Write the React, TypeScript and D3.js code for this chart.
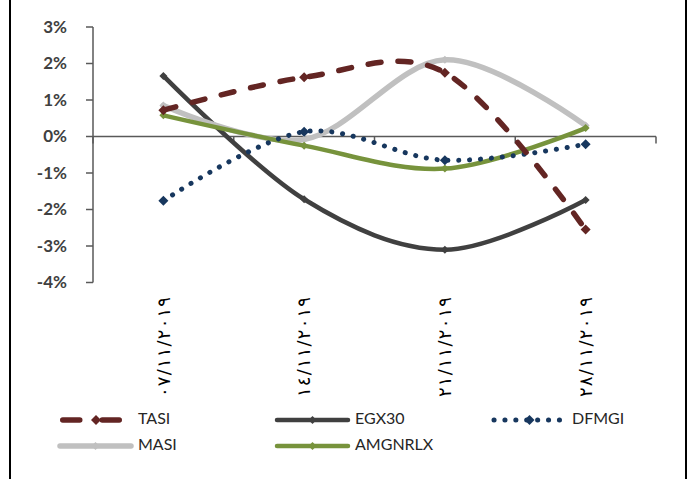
import React from "react";
import * as d3 from "d3";

const categories = ["٠٧/١١/٢٠١٩", "١٤/١١/٢٠١٩", "٢١/١١/٢٠١٩", "٢٨/١١/٢٠١٩"];
const tasi = [0.72, 1.62, 1.75, -2.55];
const egx30 = [1.66, -1.72, -3.1, -1.74];
const dfmgi = [-1.76, 0.13, -0.65, -0.21];
const masi = [0.85, -0.08, 2.1, 0.3];
const amgnrlx = [0.58, -0.25, -0.88, 0.23];
const yTicks = [3, 2, 1, 0, -1, -2, -3, -4];

const series = [
  { name: "TASI", values: tasi, color: "#632523", width: 5.5, dash: "13 17", marker: 5 },
  { name: "EGX30", values: egx30, color: "#404040", width: 4.5, dash: "", marker: 4 },
  { name: "DFMGI", values: dfmgi, color: "#17375e", width: 5, dash: "0.1 10.8", marker: 5 },
  { name: "MASI", values: masi, color: "#c0c0c0", width: 5.5, dash: "", marker: 4 },
  { name: "AMGNRLX", values: amgnrlx, color: "#77933c", width: 4.5, dash: "", marker: 4 },
];

const drawOrder = ["EGX30", "MASI", "AMGNRLX", "DFMGI", "TASI"];

export default function App() {
  const W = 693, H = 479;
  const x0 = 93, x1 = 656;
  const y = d3.scaleLinear().domain([3, -4]).range([27, 282.5]);
  const band = d3.scaleBand<string>().domain(categories).range([x0, x1]);
  const cx = (i: number) => (band(categories[i]) as number) + band.bandwidth() / 2;
  const line = d3
    .line<number>()
    .x((_, i) => cx(i))
    .y((v) => y(v))
    .curve(d3.curveCardinal.tension(0));
  const diamond = (px: number, py: number, r: number) =>
    `M${px},${py - r}L${px + r},${py}L${px},${py + r}L${px - r},${py}Z`;

  const legendPos: Record<string, [number, number]> = {
    TASI: [60, 420],
    EGX30: [277, 420],
    DFMGI: [494, 420],
    MASI: [60, 446],
    AMGNRLX: [277, 446],
  };
  const sampleLen = 71;

  return (
    <svg width={W} height={H} style={{ position: "absolute", left: 0, top: 0, background: "#fff" }}>
      <rect x={0} y={0} width={W} height={H} fill="#fff" />
      <line x1={10} y1={0} x2={10} y2={H} stroke="#000" strokeWidth={2} />
      <line x1={686} y1={0} x2={686} y2={H} stroke="#000" strokeWidth={2} />

      {/* y axis */}
      <line x1={x0} y1={y(3)} x2={x0} y2={y(-4)} stroke="#595959" strokeWidth={1.5} />
      {yTicks.map((t) => (
        <g key={t}>
          <line x1={x0 - 7} x2={x0} y1={y(t)} y2={y(t)} stroke="#595959" strokeWidth={1.5} />
          <text
            x={67}
            y={y(t)}
            dy="0.35em"
            textAnchor="end"
            fontFamily="Lato, sans-serif"
            fontWeight="bold"
            fontSize={17}
            fill="#404040"
          >
            {t}%
          </text>
        </g>
      ))}

      {/* x axis */}
      <line x1={x0} y1={y(0)} x2={x1} y2={y(0)} stroke="#595959" strokeWidth={1.5} />
      {[...categories.map((c) => band(c) as number), x1].map((px, i) => (
        <line key={i} x1={px} x2={px} y1={y(0)} y2={y(0) + 7} stroke="#595959" strokeWidth={1.5} />
      ))}
      {categories.map((c, i) => (
        <text
          key={c}
          transform={`translate(${cx(i)},297) rotate(-90)`}
          textAnchor="end"
          dy="0.35em"
          fontFamily="DejaVu Sans, sans-serif"
          fontSize={18}
          textLength={100}
          lengthAdjust="spacing"
          fill="#000"
        >
          {c}
        </text>
      ))}

      {/* series */}
      {drawOrder.map((n) => {
        const s = series.find((d) => d.name === n)!;
        return (
          <g key={s.name}>
            <path
              d={line(s.values) as string}
              fill="none"
              stroke={s.color}
              strokeWidth={s.width}
              strokeDasharray={s.dash || undefined}
              strokeLinecap="round"
            />
            {s.values.map((v, i) => (
              <path key={i} d={diamond(cx(i), y(v), s.marker)} fill={s.color} />
            ))}
          </g>
        );
      })}

      {/* legend */}
      {series.map((s) => {
        const [lx, ly] = legendPos[s.name];
        const isTasi = s.name === "TASI";
        return (
          <g key={s.name}>
            <line
              x1={isTasi ? lx + 2.75 : lx}
              x2={isTasi ? lx + 59.25 : lx + sampleLen}
              y1={ly}
              y2={ly}
              stroke={s.color}
              strokeWidth={s.width}
              strokeDasharray={s.dash ? (isTasi ? "17 22.5" : s.dash) : undefined}
              strokeLinecap="round"
            />
            <path d={diamond(lx + (isTasi ? 36 : sampleLen / 2), ly, s.marker)} fill={s.color} />
            <text
              x={lx + sampleLen + 7}
              y={ly - 2}
              dy="0.35em"
              fontFamily="Lato, sans-serif"
              fontSize={16}
              fill="#262626"
            >
              {s.name}
            </text>
          </g>
        );
      })}
    </svg>
  );
}
